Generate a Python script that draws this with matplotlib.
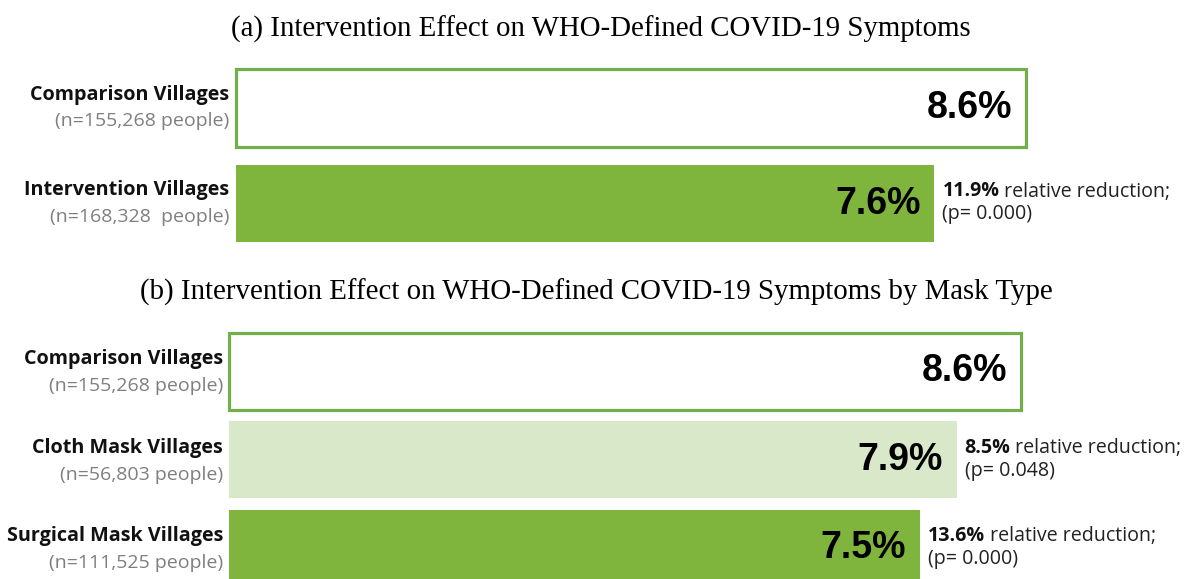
import matplotlib
matplotlib.use("Agg")
import matplotlib.pyplot as plt

# ---- data ----
title_a = "(a) Intervention Effect on WHO-Defined COVID-19 Symptoms"
groups_a = ["Comparison Villages", "Intervention Villages"]
ns_a = ["(n=155,268 people)", "(n=168,328  people)"]
values_a = [8.6, 7.6]
reductions_a = [None, "11.9%"]
pvals_a = [None, "(p= 0.000)"]

title_b = "(b) Intervention Effect on WHO-Defined COVID-19 Symptoms by Mask Type"
groups_b = ["Comparison Villages", "Cloth Mask Villages", "Surgical Mask Villages"]
ns_b = ["(n=155,268 people)", "(n=56,803 people)", "(n=111,525 people)"]
values_b = [8.6, 7.9, 7.5]
reductions_b = [None, "8.5%", "13.6%"]
pvals_b = [None, "(p= 0.048)", "(p= 0.000)"]

# ---- style ----
W, H = 1188, 579
DPI = 100
OUTLINE = "#72AE4A"
DARK = "#80B53D"
LIGHT = "#D9E8C9"
GRAY = "#7F7F7F"
PX = 72.0 / DPI  # points per pixel

fig = plt.figure(figsize=(W / DPI, H / DPI), dpi=DPI)
fig.patch.set_facecolor("white")


def make_axes(left_px, top_px, bottom_px, px_per_unit):
    width_px = W - left_px
    ax = fig.add_axes([left_px / W, 1 - bottom_px / H, width_px / W,
                       (bottom_px - top_px) / H])
    ax.set_xlim(0, width_px / px_per_unit)
    ax.axis("off")
    return ax


def draw_panel(ax, groups, ns, values, reductions, pvals, styles, height,
               label_gap_px, name_dy, n_dy):
    n = len(groups)
    ax.set_ylim(n - 0.5, -0.5)
    for i, (g, nn, v, r, p, st) in enumerate(zip(groups, ns, values, reductions, pvals, styles)):
        if st == "outline":
            ax.barh(i, v, height=height, color="white", edgecolor=OUTLINE,
                    linewidth=2.3, clip_on=False)
        else:
            ax.barh(i, v, height=height, color=st, edgecolor="none", clip_on=False)
        # value label
        ax.annotate(f"{v:.1f}%", xy=(v, i), xytext=(-14 * PX, 0),
                    textcoords="offset points", ha="right", va="center",
                    fontsize=27, fontweight="bold", family="Liberation Sans",
                    color="black", annotation_clip=False)
        # category labels
        ax.annotate(g, xy=(0, i), xytext=(-label_gap_px * PX, name_dy * PX),
                    textcoords="offset points", ha="right", va="center",
                    fontsize=14.2, fontweight="bold", family="Open Sans",
                    color="#111111", annotation_clip=False)
        ax.annotate(nn, xy=(0, i), xytext=(-label_gap_px * PX, n_dy * PX),
                    textcoords="offset points", ha="right", va="center",
                    fontsize=14.0, family="Open Sans", color=GRAY,
                    annotation_clip=False)
        if r is not None:
            t = ax.annotate(r, xy=(v, i), xytext=(8 * PX, 12 * PX),
                            textcoords="offset points", ha="left", va="center",
                            fontsize=14.1, fontweight="bold", family="Open Sans",
                            color="#111111", annotation_clip=False)
            ax.annotate(" relative reduction;", xy=(1, 0), xycoords=t,
                        ha="left", va="bottom", fontsize=14.1,
                        family="Open Sans", color="#222222",
                        annotation_clip=False)
            ax.annotate(p, xy=(v, i), xytext=(8 * PX, -11 * PX),
                        textcoords="offset points", ha="left", va="center",
                        fontsize=14.1, family="Open Sans", color="#222222",
                        annotation_clip=False)


# panel (a)
fig.text(601 / W, 1 - 29 / H, title_a, ha="center", va="center",
         fontsize=20.8, family="Liberation Serif")
ax_a = make_axes(236, 60.25, 251.25, 91.9)
draw_panel(ax_a, groups_a, ns_a, values_a, reductions_a, pvals_a,
           ["outline", DARK], 0.81, 7, 13, -13)

# panel (b)
fig.text(596 / W, 1 - 292 / H, title_b, ha="center", va="center",
         fontsize=20.8, family="Liberation Serif")
ax_b = make_axes(229, 327.25, 592.25, 92.1)
draw_panel(ax_b, groups_b, ns_b, values_b, reductions_b, pvals_b,
           ["outline", LIGHT, DARK], 0.87, 6, 12, -15)

fig.savefig("out.png", dpi=DPI, facecolor="white")
